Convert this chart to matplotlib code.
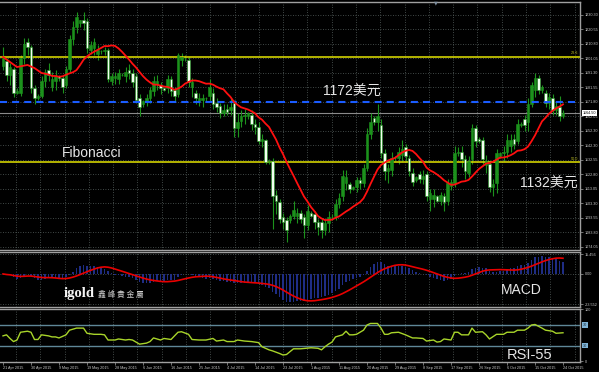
import numpy as np
import pandas as pd
import matplotlib
matplotlib.use("Agg")
import matplotlib.pyplot as plt
from matplotlib import font_manager as fm

W, H, DPI = 599, 372, 100

# ------------------------------------------------------------------ data
date_labels = ["21 Apr 2015", "30 Apr 2015", "9 May 2015", "19 May 2015", "28 May 2015",
               "6 Jun 2015", "16 Jun 2015", "25 Jun 2015", "4 Jul 2015", "14 Jul 2015",
               "23 Jul 2015", "1 Aug 2015", "11 Aug 2015", "20 Aug 2015", "29 Aug 2015",
               "8 Sep 2015", "17 Sep 2015", "26 Sep 2015", "6 Oct 2015", "15 Oct 2015",
               "24 Oct 2015"]
bars_per_label = 8

opens = [1196, 1199, 1190, 1194, 1178, 1178, 1201, 1212, 1209, 1181,
         1174, 1176, 1186, 1193, 1182, 1186, 1189, 1188, 1183, 1194,
         1214, 1222, 1225, 1227, 1226, 1207, 1208, 1204, 1206, 1206,
         1207, 1186, 1188, 1187, 1190, 1189, 1193, 1191, 1189, 1174,
         1170, 1172, 1174, 1179, 1184, 1183, 1181, 1181, 1187, 1180,
         1177, 1200, 1201, 1200, 1182, 1178, 1172, 1173, 1174, 1176,
         1178, 1171, 1169, 1164, 1167, 1166, 1171, 1154, 1159, 1162,
         1162, 1163, 1157, 1155, 1145, 1146, 1131, 1132, 1109, 1104,
         1094, 1092, 1092, 1095, 1095, 1097, 1094, 1089, 1097, 1096,
         1091, 1091, 1085, 1090, 1094, 1095, 1103, 1108, 1117, 1116,
         1113, 1114, 1119, 1117, 1127, 1150, 1161, 1158, 1156, 1137,
         1125, 1126, 1134, 1134, 1136, 1141, 1134, 1124, 1119, 1123,
         1120, 1123, 1106, 1106, 1108, 1105, 1108, 1105, 1115, 1117,
         1137, 1138, 1133, 1124, 1133, 1154, 1147, 1146, 1129, 1130,
         1114, 1117, 1135, 1137, 1138, 1142, 1147, 1145, 1156, 1160,
         1158, 1170, 1180, 1188, 1180, 1178, 1171, 1174, 1166, 1168,
         1162]
highs = [1209, 1201, 1198, 1195, 1181, 1203, 1215, 1215, 1210, 1183,
         1177, 1189, 1194, 1198, 1192, 1193, 1190, 1190, 1196, 1217,
         1226, 1232, 1227, 1232, 1228, 1213, 1215, 1210, 1207, 1209,
         1208, 1191, 1192, 1194, 1191, 1195, 1197, 1194, 1191, 1177,
         1173, 1177, 1182, 1189, 1190, 1185, 1182, 1190, 1189, 1182,
         1205, 1205, 1203, 1202, 1188, 1180, 1178, 1177, 1175, 1187,
         1181, 1174, 1171, 1170, 1170, 1175, 1173, 1164, 1166, 1167,
         1165, 1166, 1160, 1158, 1150, 1147, 1133, 1134, 1112, 1106,
         1097, 1094, 1096, 1105, 1100, 1099, 1096, 1102, 1098, 1098,
         1093, 1093, 1093, 1098, 1096, 1106, 1110, 1126, 1126, 1118,
         1115, 1121, 1121, 1130, 1154, 1164, 1162, 1170, 1160, 1140,
         1130, 1138, 1135, 1141, 1146, 1143, 1136, 1127, 1122, 1125,
         1126, 1125, 1113, 1113, 1109, 1111, 1110, 1120, 1120, 1142,
         1141, 1142, 1136, 1135, 1157, 1156, 1148, 1148, 1136, 1132,
         1120, 1140, 1138, 1142, 1150, 1150, 1150, 1160, 1158, 1163,
         1174, 1185, 1191, 1190, 1183, 1180, 1178, 1177, 1172, 1176,
         1166]
lows = [1193, 1186, 1183, 1175, 1177, 1176, 1197, 1203, 1178, 1170,
        1173, 1174, 1182, 1186, 1179, 1180, 1186, 1178, 1181, 1192,
        1210, 1218, 1222, 1220, 1205, 1204, 1203, 1200, 1204, 1203,
        1185, 1183, 1184, 1184, 1189, 1185, 1187, 1182, 1171, 1162,
        1168, 1169, 1171, 1176, 1180, 1177, 1179, 1178, 1176, 1172,
        1175, 1196, 1199, 1182, 1175, 1170, 1169, 1168, 1172, 1172,
        1167, 1165, 1161, 1162, 1163, 1163, 1148, 1148, 1155, 1157,
        1160, 1153, 1150, 1143, 1141, 1130, 1130, 1086, 1096, 1090,
        1086, 1077, 1090, 1093, 1090, 1090, 1080, 1085, 1094, 1086,
        1082, 1080, 1082, 1084, 1092, 1092, 1100, 1105, 1112, 1110,
        1112, 1111, 1113, 1114, 1125, 1147, 1156, 1152, 1134, 1119,
        1117, 1122, 1132, 1130, 1132, 1131, 1122, 1115, 1118, 1117,
        1116, 1105, 1098, 1101, 1104, 1102, 1098, 1102, 1112, 1114,
        1135, 1128, 1120, 1121, 1130, 1141, 1144, 1130, 1124, 1111,
        1108, 1110, 1134, 1132, 1134, 1138, 1140, 1143, 1155, 1152,
        1152, 1168, 1175, 1177, 1178, 1168, 1167, 1163, 1163, 1159,
        1161]
closes = [1201, 1190, 1195, 1178, 1179, 1201, 1211, 1209, 1181, 1174,
          1176, 1186, 1192, 1190, 1187, 1189, 1188, 1182, 1194, 1214,
          1222, 1229, 1227, 1225, 1208, 1210, 1212, 1207, 1206, 1207,
          1187, 1189, 1189, 1191, 1190, 1192, 1191, 1185, 1173, 1168,
          1172, 1174, 1180, 1186, 1186, 1181, 1180, 1187, 1179, 1176,
          1203, 1202, 1201.5, 1185, 1185, 1174, 1174, 1174, 1174, 1182,
          1170, 1168, 1164, 1166, 1165, 1168, 1154, 1158, 1162, 1163,
          1164, 1157, 1155, 1145, 1147, 1131, 1132, 1108, 1105, 1093,
          1091, 1085, 1095, 1099, 1097, 1093, 1089, 1098, 1095, 1091,
          1087, 1085, 1090, 1094, 1094, 1103, 1107, 1122, 1121, 1113,
          1114, 1119, 1117, 1127, 1150, 1158, 1158, 1162, 1137, 1125,
          1127, 1134, 1134, 1138, 1140, 1135, 1125, 1118, 1121, 1120,
          1122, 1108, 1110, 1109, 1105, 1109, 1104, 1117, 1118, 1137,
          1138, 1133, 1125, 1132, 1154, 1145, 1145, 1133, 1132, 1114,
          1116, 1137, 1137, 1138, 1146, 1146, 1143, 1157, 1157, 1156,
          1170, 1183, 1188, 1180, 1182, 1171, 1175, 1166, 1169, 1162,
          1164.5]

# red moving average: first bars, rest = SMA(14) of closes
ma_period = 14
ma_head_bar = [0, 2, 4, 7, 9, 11]
ma_head_val = [1202, 1198.6, 1195.2, 1196.6, 1194.5, 1191.2]

# RSI line
rsi_bar = [0, 1, 2, 3, 4, 5, 7, 8, 9, 10,
           11, 13, 14, 15, 16, 18, 19, 21, 23, 24,
           26, 28, 29, 30, 32, 33, 35, 36, 37, 39,
           41, 42, 43, 45, 46, 48, 49, 50, 51, 53,
           54, 56, 58, 60, 61, 63, 64, 66, 67, 69,
           71, 73, 74, 76, 77, 79, 80, 81, 83, 85,
           88, 90, 91, 92, 93, 94, 95, 97, 98, 99,
           100, 101, 103, 104, 105, 107, 108, 109, 110, 111,
           113, 115, 117, 118, 120, 121, 123, 124, 125, 126,
           128, 129, 130, 131, 133, 134, 135, 137, 138, 139,
           141, 143, 144, 146, 147, 149, 150, 151, 152, 154,
           155, 157, 158, 160]
rsi_val = [49, 51, 44, 38, 41, 56, 58, 56, 42, 42,
           51, 49, 47, 47, 45, 51, 60, 64, 64, 54,
           52, 52, 51, 41, 41, 43, 41, 42, 41, 33,
           35, 38, 45, 41, 44, 42, 49, 56, 57, 52,
           42, 41, 41, 44, 39, 41, 38, 38, 41, 39,
           38, 36, 28, 22, 20, 15, 12, 13, 24, 24,
           26, 25, 22, 28, 33, 37, 47, 51, 58, 51,
           51, 52, 60, 70, 73, 73, 64, 52, 52, 55,
           56, 51, 45, 45, 44, 39, 41, 37, 38, 43,
           41, 56, 56, 51, 51, 64, 56, 57, 51, 43,
           52, 52, 56, 56, 60, 60, 64, 70, 71, 64,
           60, 58, 54, 55]
rsi_levels = [70, 30]

price_ticks = [1074.05, 1083.80, 1093.55, 1103.30, 1113.05, 1122.80, 1132.55, 1142.30,
               1152.30, 1162.05, 1171.80, 1181.55, 1191.30, 1201.05, 1210.80, 1220.55, 1230.30]
macd_ticks = [15.456, 0.0, -23.552]
macd_tick_labels = ["15.456", "0.00", "-23.552"]

fib_levels = [1202.3, 1131.4]
fib_names = ["23.6", "50.0"]
level_1172 = 1171.8

n = len(closes)
assert len(opens) == len(highs) == len(lows) == n == 161
assert len(rsi_bar) == len(rsi_val)

# ------------------------------------------------------------------ indicators
cl = pd.Series(closes, dtype=float)
ma = cl.rolling(ma_period).mean()
ema_fast = cl.ewm(span=12, adjust=False).mean()
ema_slow = cl.ewm(span=26, adjust=False).mean()
macd = ema_fast - ema_slow
signal = macd.rolling(9, min_periods=1).mean()

# ------------------------------------------------------------------ fonts
names = {f.name for f in fm.fontManager.ttflist}
small_font = "Liberation Sans Narrow" if "Liberation Sans Narrow" in names else "Liberation Sans"
small_size = 3.3 if small_font == "Liberation Sans Narrow" else 2.7
plt.rcParams["font.family"] = [small_font, "DejaVu Sans"]
big_font = ["Liberation Sans", "Noto Sans CJK SC", "DejaVu Sans"]

# ------------------------------------------------------------------ layout
fig = plt.figure(figsize=(W / DPI, H / DPI), dpi=DPI, facecolor="black")


def px_rect(x0, y0, x1, y1):
    return [x0 / W, 1 - y1 / H, (x1 - x0) / W, (y1 - y0) / H]


ax = fig.add_axes(px_rect(0, 2, 580, 249.5))
axm = fig.add_axes(px_rect(0, 251.5, 580, 306.5), sharex=ax)
axr = fig.add_axes(px_rect(0, 308.5, 580, 362), sharex=ax)

x = np.arange(n)
ax.set_xlim(-3 / 3.5, 577 / 3.5)
ax.set_ylim(1072.16, 1239.06)
axm.set_ylim(-25.25, 17.4)
axr.set_ylim(-1.5, 101.9)

grid_col = "#56605f"
grid_style = (0, (1, 2))
gx = np.arange(3.71, 165, 6.94)
for a in (ax, axm, axr):
    a.set_facecolor("black")
    a.spines["left"].set_visible(False)
    for s in ("top", "bottom", "right"):
        a.spines[s].set_color("#a0a0a0")
        a.spines[s].set_linewidth(1.0)
    a.yaxis.tick_right()
    a.tick_params(axis="y", colors="#a0a0a0", labelcolor="#c8c8c8",
                  labelsize=small_size, length=2, width=0.5, pad=1.2)
    for g in gx:
        a.axvline(g, color=grid_col, lw=0.6, ls=grid_style, zorder=0)

ax.tick_params(axis="x", length=0, labelbottom=False)
axm.tick_params(axis="x", length=0, labelbottom=False)

# ------------------------------------------------------------------ main panel
ax.set_yticks(price_ticks)
ax.set_yticklabels([f"{v:.2f}" for v in price_ticks])
for v in price_ticks:
    ax.axhline(v, color=grid_col, lw=0.6, ls=grid_style, zorder=0)

green = "#1c921c"
o = np.array(opens, float)
c = np.array(closes, float)
bull = c >= o
ax.vlines(x, lows, highs, color=green, lw=0.8, zorder=2)
ax.bar(x[bull], (c - o)[bull], bottom=o[bull], width=0.62, color=green,
       edgecolor=green, lw=0.4, zorder=3)
ax.bar(x[~bull], (o - c)[~bull], bottom=c[~bull], width=0.62, color="#f2fff0",
       edgecolor=green, lw=0.4, zorder=3)

ma_x = ma_head_bar + list(range(ma_period - 1, n))
ma_y = ma_head_val + list(ma.iloc[ma_period - 1:])
ax.plot(ma_x, ma_y, color="#ff1010", lw=1.3, zorder=4)

for lv in fib_levels:
    ax.axhline(lv, color="#d2d200", lw=1.2, zorder=2)
for lv, nm in zip(fib_levels, fib_names):
    ax.annotate(nm, xy=(1.0, lv), xycoords=("axes fraction", "data"),
                xytext=(-1, 0.8), textcoords="offset points", ha="right", va="bottom",
                color="#b8b820", fontsize=small_size)

ax.axhline(level_1172, color="#1a5cff", lw=1.5, ls=(0, (3.4, 2.4)), zorder=3)
ax.axhline(closes[-1], color="#8a8a8a", lw=0.8, zorder=1)
ax.annotate(f"{closes[-1]:.2f}", xy=(1.0, closes[-1]), xycoords=("axes fraction", "data"),
            xytext=(2.2, 0), textcoords="offset points", ha="left", va="center",
            color="black", fontsize=small_size,
            bbox=dict(boxstyle="square,pad=0.25", fc="white", ec="white", lw=0))

# ------------------------------------------------------------------ MACD panel
axm.bar(x, macd, width=0.38, color="#1f2d85", zorder=2)
axm.plot(x, signal, color="#e80000", lw=1.2, zorder=3)
axm.set_yticks(macd_ticks)
axm.set_yticklabels(macd_tick_labels)
for v in macd_ticks:
    axm.axhline(v, color=grid_col, lw=0.6, ls=grid_style, zorder=0)

# ------------------------------------------------------------------ RSI panel
for lv in rsi_levels:
    axr.axhline(lv, color="#5f8798", lw=1.0, zorder=1)
    axr.annotate(str(lv), xy=(1.0, lv), xycoords=("axes fraction", "data"),
                 xytext=(2.2, 0), textcoords="offset points", ha="left", va="center",
                 color="#1a2a3a", fontsize=small_size,
                 bbox=dict(boxstyle="square,pad=0.2", fc="#7fb3d5", ec="#7fb3d5", lw=0))
axr.plot(rsi_bar, rsi_val, color="#a8d42a", lw=1.0, zorder=3)
axr.set_yticks([100, 0])
axr.set_yticklabels(["100", "0"])

label_bars = [k * bars_per_label for k in range(len(date_labels))]
axr.set_xticks(label_bars)
axr.set_xticklabels(date_labels)
axr.tick_params(axis="x", colors="#a0a0a0", labelcolor="#c8c8c8", labelsize=small_size,
                length=2, width=0.5, pad=0.8)
for lab in axr.get_xticklabels():
    lab.set_horizontalalignment("left")

# ------------------------------------------------------------------ annotations
def ftext(px, py, s, **kw):
    fig.text(px / W, 1 - py / H, s, **kw)


ftext(323, 91.5, "1172美元", color="#e6e6e6", fontsize=10, family=big_font, va="center")
ftext(62, 153, "Fibonacci", color="#e6e6e6", fontsize=10, family=big_font, va="center")
ftext(520, 184, "1132美元", color="#e6e6e6", fontsize=10, family=big_font, va="center")
ftext(501, 290, "MACD", color="#e6e6e6", fontsize=10, family=big_font, va="center")
ftext(507, 355, "RSI-55", color="#e6e6e6", fontsize=10.5, family=big_font, va="center")
ftext(64, 293.5, "igold", color="#f4f4f4", fontsize=10.5, weight="bold",
      family=["Liberation Serif", "DejaVu Serif"], va="center")
ftext(98, 294.5, "鑫 峰 貴 金 屬", color="#d0d0d0", fontsize=5.6,
      family=["Noto Sans CJK TC", "DejaVu Sans"], va="center")
ftext(436, 2.5, "▼", color="#8090a0", fontsize=3.5, family=["DejaVu Sans"],
      va="center", ha="center")

fig.savefig("out.png", dpi=DPI, facecolor="black")
